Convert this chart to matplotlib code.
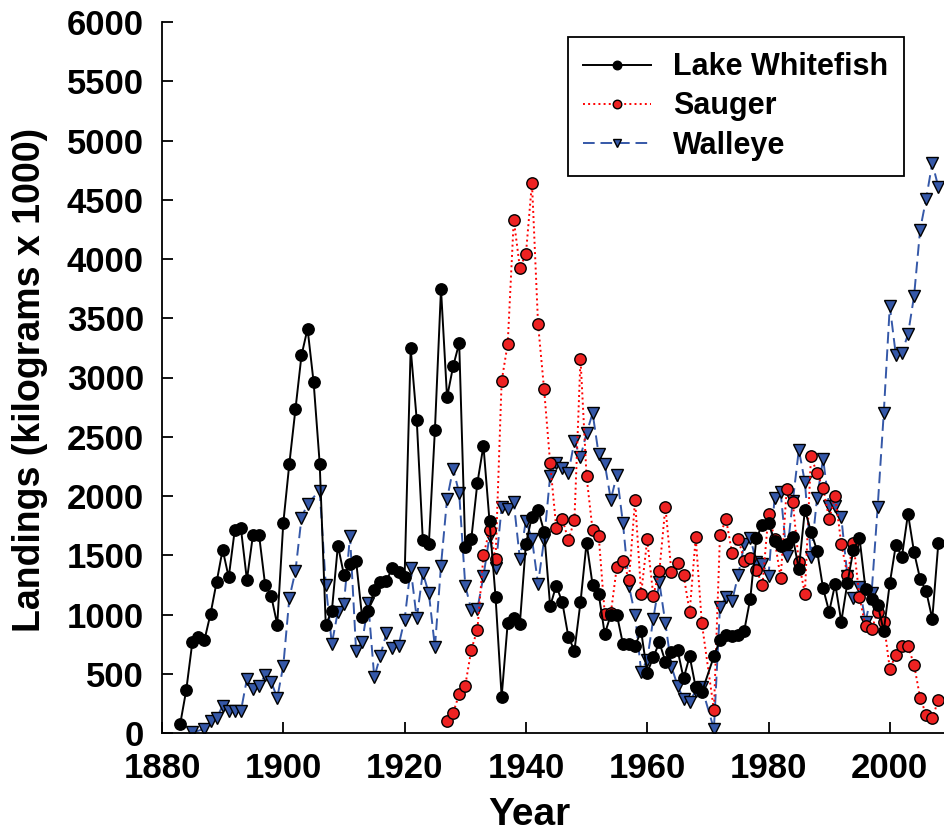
import matplotlib
matplotlib.use('Agg')
import matplotlib.pyplot as plt
from matplotlib.ticker import MultipleLocator

plt.rcParams['font.family'] = ['Liberation Sans', 'DejaVu Sans']
plt.rcParams['font.weight'] = 'bold'

# Commercial landings, thousands of kg
whitefish_years = list(range(1883, 1970)) + list(range(1971, 2009))
whitefish = [
    76, 363, 765, 807, 785, 1005, 1272, 1548, 1314, 1714,
    1731, 1292, 1672, 1672, 1252, 1157, 915, 1773, 2274, 2731,
    3187, 3412, 2959, 2274, 915, 1027, 1582, 1334, 1427, 1455,
    976, 1027, 1208, 1272, 1286, 1393, 1356, 1320, 3246, 2643,
    1630, 1596, 2561, 3747, 2832, 3094, 3290, 1568, 1639, 2111,
    2424, 1787, 1145, 306, 929, 968, 920, 1596, 1827, 1886,
    1700, 1070, 1244, 1103, 813, 695, 1103, 1605, 1250, 1174,
    836, 997, 997, 752, 752, 737, 858, 509, 639, 765,
    602, 681, 701, 461, 647, 385, 343,
    647, 785, 830, 822, 826, 864, 1135, 1647, 1755, 1770,
    1620, 1576, 1596, 1652, 1385, 1883, 1700, 1540, 1221, 1024,
    1258, 940, 1264, 1546, 1648, 1213, 1135, 1082, 860, 1264,
    1588, 1489, 1850, 1525, 1300, 1196, 963, 1601,
]

sauger_years = list(range(1927, 1970)) + list(range(1971, 2009))
sauger = [
    104, 169, 329, 400, 704, 873, 1498, 1716, 1470, 2970,
    3285, 4333, 3927, 4040, 4645, 3454, 2900, 2277, 1733, 1807,
    1627, 1797, 3159, 2165, 1709, 1666, 1005, 1010, 1405, 1455,
    1295, 1968, 1174, 1633, 1160, 1365, 1911, 1356, 1432, 1332,
    1022, 1652, 929,
    194, 1672, 1804, 1517, 1641, 1455, 1477, 1378, 1247, 1850,
    1638, 1306, 2055, 1948, 1441, 1174, 2334, 2193, 2069, 1807,
    1998, 1596, 1337, 1605, 1145, 899, 878, 1019, 934, 541,
    659, 737, 731, 577, 296, 155, 123, 279,
]

walleye_years = ([1885] + list(range(1887, 1905)) + list(range(1906, 1970))
                 + list(range(1971, 2009)))
walleye = [
    5, 34, 98, 124, 230, 183, 183, 183, 456, 369,
    400, 487, 433, 296, 568, 1140, 1365, 1816, 1934,
    2046, 1252, 752, 1025, 1092, 1663, 695, 765, 1095, 470,
    653, 841, 720, 737, 957, 1390, 968, 1351, 1179, 723,
    1413, 1976, 2230, 2024, 1244, 1039, 1047, 1323, 1661, 1390,
    1903, 1890, 1948, 1470, 1793, 1638, 1258, 1630, 2170, 2280,
    2236, 2196, 2460, 2330, 2531, 2699, 2351, 2272, 1970, 2179,
    1770, 1238, 997, 518, 617, 963, 1272, 926, 560, 400,
    285, 264, 357, 385,
    34, 1067, 1145, 1117, 1332, 1592, 1647, 1440, 1430, 1322,
    1985, 2032, 1492, 1954, 2390, 2117, 1483, 1982, 2314, 1914,
    1914, 1821, 1329, 1136, 1234, 937, 1182, 1908, 2697, 3604,
    3187, 3210, 3364, 3688, 4248, 4510, 4811, 4608,
]

fig = plt.figure(figsize=(9.45, 8.33), dpi=100)
ax = fig.add_axes([162 / 945, 100 / 833, 1 - 162 / 945, 711 / 833])

blue = '#3558a8'
ax.plot(whitefish_years, whitefish, '-', color='black', lw=1.4,
        marker='o', ms=8.2, mfc='black', mec='black', label='Lake Whitefish', zorder=3)
ax.plot(sauger_years, sauger, ':', color='red', lw=1.4,
        marker='o', ms=8.2, mfc='#ee2222', mec='black', mew=1.0, label='Sauger', zorder=2)
ax.plot(walleye_years, walleye, color=blue, lw=1.4, dashes=(6, 3),
        marker='v', ms=8.6, mfc=blue, mec='black', mew=1.0, label='Walleye', zorder=1)

ax.set_xlim(1880, 2009.1)
ax.set_ylim(0, 6000)
ax.xaxis.set_major_locator(MultipleLocator(20))
ax.yaxis.set_major_locator(MultipleLocator(500))
ax.tick_params(direction='in', length=8, width=1.3, labelsize=25)
ax.tick_params(axis='y', pad=13)
ax.tick_params(axis='x', pad=14)
for side in ['top', 'right']:
    ax.spines[side].set_visible(False)
for side in ['left', 'bottom']:
    ax.spines[side].set_linewidth(1.3)

ax.set_xlabel('Year', fontsize=28, fontweight='bold')
ax.xaxis.set_label_coords((529 - 162) / 783, -0.09)
ax.set_ylabel('Landings (kilograms x 1000)', fontsize=27, fontweight='bold')
ax.yaxis.set_label_coords(-0.145, (733 - 380) / 711)

leg = ax.legend(loc='upper left', bbox_to_anchor=(568 / 945, 1 - 37 / 833),
                bbox_transform=fig.transFigure, borderaxespad=0, fancybox=False,
                edgecolor='black', fontsize=22, numpoints=1, markerscale=0.75,
                handlelength=2.2, handletextpad=0.75, labelspacing=0.3,
                borderpad=0.5, framealpha=1)
leg.get_frame().set_linewidth(1.3)

fig.savefig('out.png', dpi=100)
